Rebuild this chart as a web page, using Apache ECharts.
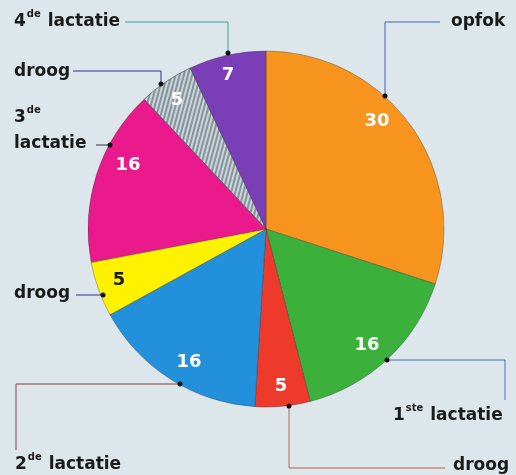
<!DOCTYPE html>
<html><head><meta charset="utf-8">
<script src="https://cdn.jsdelivr.net/npm/echarts@6/dist/echarts.min.js"></script>
<style>html,body{margin:0;padding:0;background:#dde6ea}#c{width:516px;height:475px}</style>
</head><body><div id="c"></div>
<script>
// ---- data ----
var categories = ['opfok','1ste lactatie','droog','2de lactatie','droog','3de lactatie','droog','4de lactatie'];
var values = [30,16,5,16,5,16,5,7];

// ---- styles / positions ----
var colors = ['#f7941d','#3bb13b','#ee3a2a','#2290db','#fff200','#ea1a8c','#cad5da','#7a3fb6'];
var valueColors = ['#fff','#fff','#fff','#fff','#1a1a1a','#fff','#fff','#fff'];
var valuePos = [[377,121],[367,345],[281,386],[189,362],[119,280],[128,165],[177,100],[228,75]];
var namePos = [[451,22],[393,416],[453,466],[15,465],[14,294],[14,131],[14,72],[14,22]];
var linePts = [
  [[385,96],[385,22],[440,22]],
  [[387,360],[505,360],[505,400]],
  [[289,406],[289,468],[445,468]],
  [[180,384],[16,384],[16,450]],
  [[103,295],[90,295],[76,295]],
  [[110,145],[103,145],[96,145]],
  [[161,84],[161,71],[73,71]],
  [[228,53],[228,22],[125,22]]
];
var lineColors = ['#4b5fc4','#4a6fc0','#c0604a','#8a3a4a','#2b2f8c','#333','#2b2f8c','#3aa39a'];
var breakName = [false,false,false,false,false,true,false,false];

var FONT = 'DejaVu Sans';
var chart = echarts.init(document.getElementById('c'), null, {renderer:'canvas'});

var data = categories.map(function(n,i){
  var item = {name:n, value:values[i], itemStyle:{color:colors[i]}, label:{color:valueColors[i]}};
  if (i === 6) {
    item.itemStyle.decal = {symbol:'rect', color:'#87939b', dashArrayX:[1,0], dashArrayY:[1.5,2], rotation:-5*Math.PI/12};
  }
  return item;
});
var data2 = categories.map(function(n,i){ return {name:n, value:values[i], itemStyle:{color:'rgba(0,0,0,0)', borderWidth:0}, labelLine:{lineStyle:{color:lineColors[i]}}}; });

chart.setOption({
  backgroundColor:'#dde6ea',
  animation:false,
  series:[
    {
      type:'pie', center:[266,229], radius:[0,178], startAngle:90, clockwise:true,
      silent:true,
      itemStyle:{borderColor:'rgba(40,40,60,0.55)', borderWidth:0.6},
      label:{show:true, position:'inside', formatter:'{c}', fontFamily:FONT, fontWeight:'bold', fontSize:18,
        color:'#fff'},
      labelLine:{show:false},
      labelLayout:function(p){
        return {x:valuePos[p.dataIndex][0], y:valuePos[p.dataIndex][1], align:'center', verticalAlign:'middle'};
      },
      data:data
    },
    {
      type:'pie', center:[266,229], radius:[0,178], startAngle:90, clockwise:true,
      silent:true, z:3,
      label:{show:true, position:'outside', overflow:'none', width:200,
        formatter:function(p){
          var m = p.name.match(/^(\d)(ste|de) (.*)$/);
          if (!m) return '{t|' + p.name + '}';
          return '{t|' + m[1] + '}{s|' + m[2] + '}' + (breakName[p.dataIndex] ? '\n' : '{t| }') + '{t|' + m[3] + '}';
        },
        color:'#1a1a1a', fontFamily:FONT, fontWeight:'bold', fontSize:17,
        rich:{
          t:{fontFamily:FONT, fontWeight:'bold', fontSize:17, color:'#1a1a1a', lineHeight:26},
          s:{fontFamily:FONT, fontWeight:'bold', fontSize:10, color:'#1a1a1a', verticalAlign:'top', lineHeight:13, padding:[0,1,0,1]}
        }
      },
      labelLine:{show:true, length:10, length2:10, lineStyle:{width:1}},
      labelLayout:function(p){
        return {x:namePos[p.dataIndex][0], y:namePos[p.dataIndex][1], align:'left', verticalAlign:'middle',
          labelLinePoints:linePts[p.dataIndex]};
      },
      data:data2
    }
  ],
  graphic: linePts.map(function(pts){
    return {type:'circle', shape:{cx:pts[0][0], cy:pts[0][1], r:2.5}, style:{fill:'#111'}, z:100};
  })
});
</script>
</body></html>
